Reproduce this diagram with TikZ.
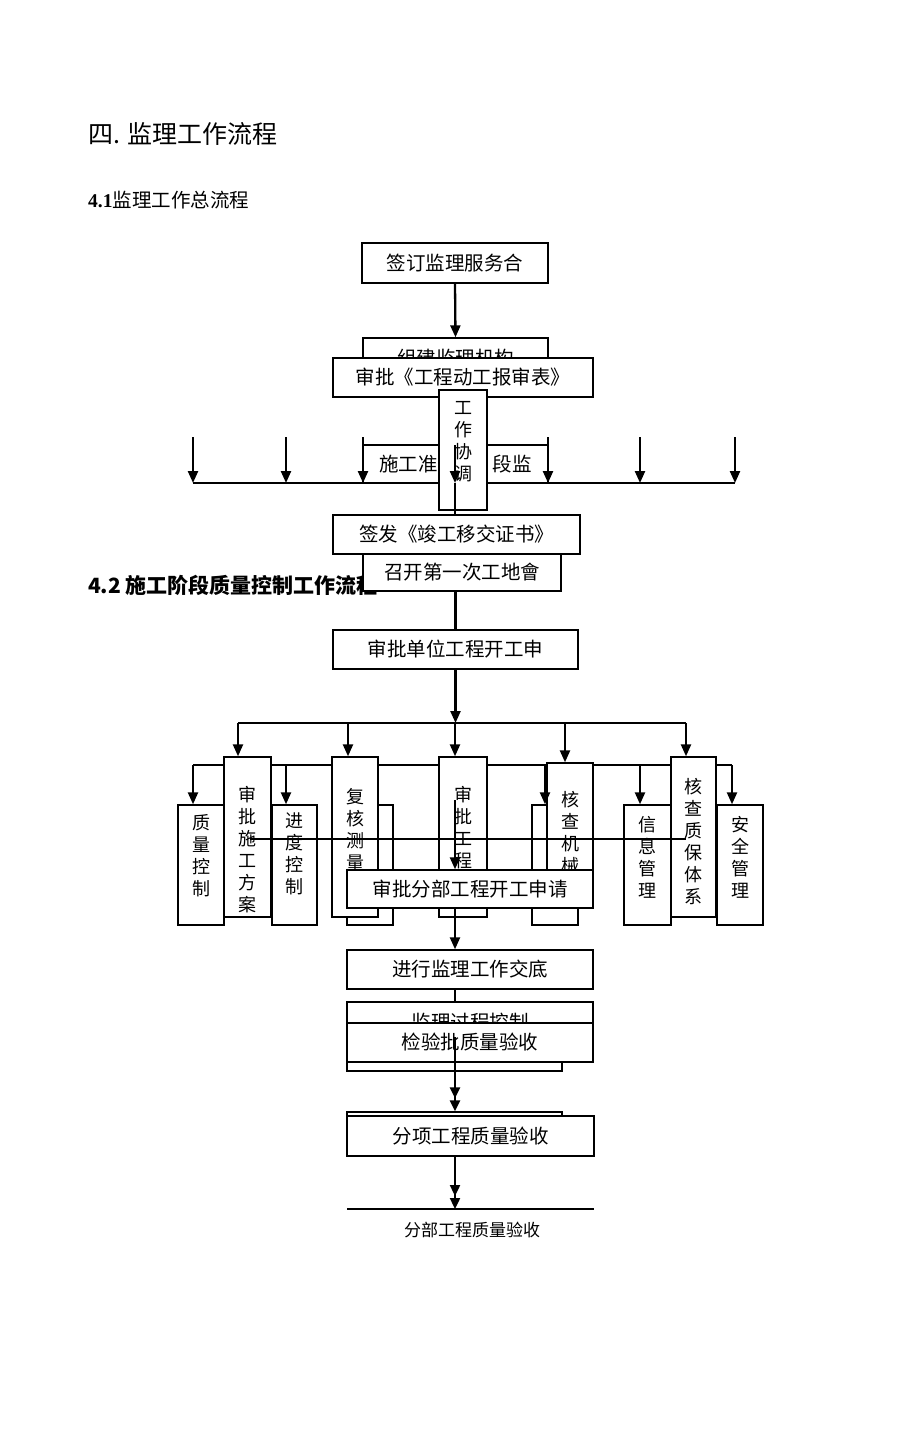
\documentclass[tikz,border=0pt]{standalone}
\usepackage{fontspec}
\setmainfont{Liberation Serif}
\newfontfamily\cjk{Noto Sans CJK SC}
\usetikzlibrary{arrows.meta}
\usetikzlibrary{calc}

\newcommand{\colbox}[3]{\parbox[c][#1pt][t]{40pt}{\centering\vspace*{#2pt}#3}}

\begin{document}
\begin{tikzpicture}[x=1pt,y=-1pt]
        \tikzset{>={Triangle[length=12pt,width=10pt]}}
        \tikzstyle{box}=[rectangle,draw=black,fill=white,line width=1.4pt,inner sep=0pt,font=\cjk\fontsize{19.5}{22}\selectfont]
        \tikzstyle{vbox}=[box,font=\cjk\fontsize{18}{22}\selectfont]
        \tikzstyle{flow}=[line width=2.3pt]
        \tikzstyle{twohead}=[-{Triangle[length=11pt,width=10pt,sep=2pt]Triangle[length=11pt,width=10pt]}]

        \fill[white] (0,0) rectangle (920,1437);
        \useasboundingbox (0,0) rectangle (920,1437);

        % headings
        \node[anchor=west,inner sep=0pt,font=\cjk\fontsize{25}{30}\selectfont] (t0) at (88,134) {四. 监理工作流程};
        \node[anchor=west,inner sep=0pt,font=\cjk\fontsize{19.5}{24}\selectfont] (t1) at (88,200) {{\rmfamily\bfseries 4.1}监理工作总流程};
        \node[anchor=west,inner sep=0pt,font=\cjk\bfseries\fontsize{21}{24}\selectfont] (t2) at (88,585) {4.2 施工阶段质量控制工作流程};

        % 4.1
        \node[box,minimum width=186,minimum height=40] (n0) at (455,263) {签订监理服务合};
        \node[box,minimum width=185,minimum height=40] (n1) at (455.5,358) {组建监理机构};
        \draw[flow,->] (n0.south) -- (n1.north);
        \node[box,minimum width=260,minimum height=39] (n2) at (463,377.5) {审批《工程动工报审表》};
        \node[box,minimum width=185,minimum height=38] (n3) at (455.5,464) {施工准\hspace{55pt}段监};

        \coordinate (h1l) at (193,483);
        \coordinate (h1r) at (735,483);
        \foreach \x [count=\i] in {193,286,363,548,640,735} {
            \coordinate (p\i) at (\x,437);
            \draw[flow,->] (p\i) -- (p\i |- h1l);
        }
        \draw[flow] (h1l) -- (h1r);

        \node[vbox,minimum width=48,minimum height=120] (n4) at (463,450) {\colbox{120}{11}{工\\作\\协\\调}};
        \node[box,minimum width=247,minimum height=39] (n5) at (456.5,534.5) {签发《竣工移交证书》};
        \coordinate (q0) at (455,445);
        \draw[flow,->] (q0) -- (q0 |- h1l);
        \draw[flow] (q0 |- h1l) -- (q0 |- n5.north);
        \node[box,minimum width=198,minimum height=37] (n6) at (462,572.5) {召开第一次工地會};

        % 4.2
        \node[box,minimum width=245,minimum height=39] (n7) at (455.5,649.5) {审批单位工程开工申};
        \draw[flow] (n7.north |- n6.south) -- (n7.north);
        \coordinate (h2l) at (238,723);
        \coordinate (h2r) at (686,723);
        \draw[flow,->] (n7.south) -- (n7.south |- h2l);
        \draw[flow] (h2l) -- (h2r);
        \coordinate (h3l) at (193,765);
        \coordinate (h3r) at (732,765);
        \draw[flow] (h3l) -- (h3r);

        \node[vbox,minimum width=46,minimum height=120] (n13) at (201,865) {\colbox{120}{9}{质\\量\\控\\制}};
        \node[vbox,minimum width=45,minimum height=120] (n14) at (294.5,865) {\colbox{120}{8}{进\\度\\控\\制}};
        \node[vbox,minimum width=46,minimum height=120] (n15) at (370,865) {};
        \node[vbox,minimum width=46,minimum height=120] (n16) at (555,865) {};
        \node[vbox,minimum width=47,minimum height=120] (n17) at (647.5,865) {\colbox{120}{11}{信\\息\\管\\理}};
        \node[vbox,minimum width=46,minimum height=120] (n18) at (740,865) {\colbox{120}{11}{安\\全\\管\\理}};

        \node[vbox,minimum width=47,minimum height=160] (n8) at (247.5,837) {\colbox{160}{29}{审\\批\\施\\工\\方\\案}};
        \node[vbox,minimum width=46,minimum height=160] (n9) at (355,837) {\colbox{160}{31}{复\\核\\测\\量}};
        \node[vbox,minimum width=48,minimum height=160] (n10) at (463,837) {\colbox{160}{29}{审\\批\\工\\程}};
        \node[vbox,minimum width=46,minimum height=142] (n11) at (570,834) {\colbox{142}{28}{核\\查\\机\\械}};
        \node[vbox,minimum width=45,minimum height=160] (n12) at (693.5,837) {\colbox{160}{21}{核\\查\\质\\保\\体\\系}};

        \foreach \x/\t [count=\i] in {238/n8,348/n9,455/n10,565/n11,686/n12} {
            \coordinate (b\i) at (\x,723);
            \draw[flow,->] (b\i) -- (b\i |- \t.north);
        }
        \foreach \x/\t [count=\i] in {193/n13,286/n14,545/n16,640/n17,732/n18} {
            \coordinate (d\i) at (\x,765);
            \draw[flow,->] (d\i) -- (d\i |- \t.north);
        }
        \draw[flow] (250,839) -- (686,839);

        \node[box,minimum width=246,minimum height=38] (n19) at (470,889) {审批分部工程开工申请};
        \node[box,minimum width=246,minimum height=39] (n20) at (470,969.5) {进行监理工作交底};
        \coordinate (q1) at (455,800);
        \draw[flow,->] (q1) -- (q1 |- n19.north);
        \draw[flow,->] (q1 |- n19.south) -- (q1 |- n20.north);

        \node[box,minimum width=215,minimum height=40] (n22) at (454.5,1051) {};
        \node[box,minimum width=246,minimum height=40] (n21) at (470,1022) {监理过程控制};
        \draw[flow] (q1 |- n20.south) -- (q1 |- n21.north);
        \node[box,minimum width=246,minimum height=39] (n23) at (470,1042.5) {检验批质量验收};

        \node[box,minimum width=215,minimum height=40] (n24) at (454.5,1132) {};
        \node[box,minimum width=247,minimum height=40] (n25) at (470.5,1136) {分项工程质量验收};
        \coordinate (q2) at (455,1037);
        \draw[flow,twohead] (q2) -- (q2 |- n24.north);

        \coordinate (c0) at (347,1209);
        \coordinate (c1) at (594,1209);
        \draw[flow,twohead] (q2 |- n25.south) -- (q2 |- c0);
        \draw[flow] (c0) -- (c1);
        \node[inner sep=0pt,font=\cjk\fontsize{17}{20}\selectfont] (n26) at (472,1230) {分部工程质量验收};
\end{tikzpicture}
\end{document}
